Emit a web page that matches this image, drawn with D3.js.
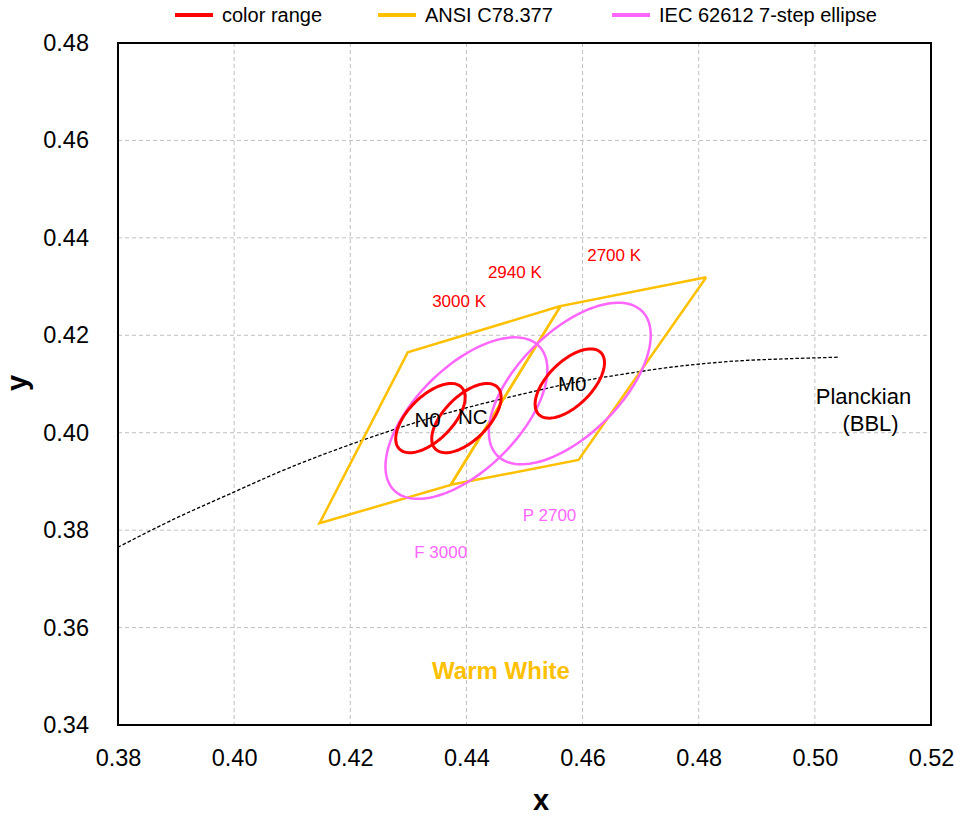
<!DOCTYPE html>
<html><head><meta charset="utf-8">
<script src="https://cdn.jsdelivr.net/npm/d3@7/dist/d3.min.js"></script>
<style>body{margin:0;background:#fff;} text{font-family:"Liberation Sans",Arial,sans-serif;}</style>
</head><body><svg id="c" width="955" height="820"></svg>
<script>
// ---- data ----
const xTicks = [0.38,0.40,0.42,0.44,0.46,0.48,0.50,0.52];
const yTicks = [0.34,0.36,0.38,0.40,0.42,0.44,0.46,0.48];
const legendLabels = ["color range","ANSI C78.377","IEC 62612 7-step ellipse"];
// ANSI C78.377 quadrangles (x,y corners)
const ansi3000 = [[0.4562,0.4260],[0.4299,0.4165],[0.4147,0.3814],[0.4373,0.3893]];
const ansi2700 = [[0.4813,0.4319],[0.4562,0.4260],[0.4373,0.3893],[0.4593,0.3944]];
// ellipses: name, cx, cy, semi-major a, semi-minor b, angle deg
const colorRange = [
  ["N0",0.4338,0.4030,0.00834,0.00408,53.13],
  ["NC",0.4400,0.4030,0.00834,0.00408,53.13],
  ["M0",0.4578,0.4101,0.00834,0.00408,53.13]
];
const iecEllipses = [
  ["F 3000",0.4400,0.4030,0.01946,0.00952,53.13],
  ["P 2700",0.4578,0.4101,0.01946,0.00952,53.13]
];
// Planckian locus points
const planckX = [0.3800,0.3897,0.3992,0.4097,0.4234,0.4369,0.4520,0.4599,0.4685,0.4770,0.4862,0.4957,0.5040];
const planckY = [0.3765,0.3823,0.3874,0.3929,0.3990,0.4041,0.4086,0.4106,0.4123,0.4137,0.4147,0.4152,0.4155];
// text annotations [text, x, y]
const cctLabels = [["3000 K",0.4341,0.4258],["2940 K",0.4437,0.4318],["2700 K",0.4608,0.4353]];
const iecLabels = [["F 3000",0.4310,0.3743],["P 2700",0.4497,0.3819]];
const rangeLabels = [["N0",0.4333,0.4022],["NC",0.4411,0.4029],["M0",0.4582,0.4097]];

// ---- chart ----
const svg = d3.select("#c");
const L=118,R=931,T=43,B=725;
const x = d3.scaleLinear().domain([0.38,0.52]).range([L,R]);
const y = d3.scaleLinear().domain([0.34,0.48]).range([B,T]);
const RED="#ff0000", GOLD="#ffc000", MAG="#ff66ff";

// grid
svg.append("g").selectAll("line").data(xTicks.slice(1,-1)).join("line")
  .attr("x1",d=>x(d)).attr("x2",d=>x(d)).attr("y1",T).attr("y2",B)
  .attr("stroke","#c0c0c0").attr("stroke-width",1).attr("stroke-dasharray","4,3");
svg.append("g").selectAll("line").data(yTicks.slice(1,-1)).join("line")
  .attr("y1",d=>y(d)).attr("y2",d=>y(d)).attr("x1",L).attr("x2",R)
  .attr("stroke","#c0c0c0").attr("stroke-width",1).attr("stroke-dasharray","4,3");

// axes
const xa = svg.append("g").attr("transform",`translate(0,${B})`)
  .call(d3.axisBottom(x).tickValues(xTicks).tickSize(0).tickPadding(24).tickFormat(d3.format(".2f")));
const ya = svg.append("g").attr("transform",`translate(${L},0)`)
  .call(d3.axisLeft(y).tickValues(yTicks).tickSize(0).tickPadding(29).tickFormat(d3.format(".2f")));
[xa,ya].forEach(a=>{a.select(".domain").remove();a.selectAll("text").attr("font-size",23.5).attr("fill","#000")
  .style("font-family","'Liberation Sans',Arial,sans-serif");});
svg.append("rect").attr("x",L).attr("y",T).attr("width",R-L).attr("height",B-T)
  .attr("fill","none").attr("stroke","#000").attr("stroke-width",2);

// axis titles
svg.append("text").attr("x",541).attr("y",810).attr("text-anchor","middle")
  .attr("font-size",29).attr("font-weight","bold").text("x");
svg.append("text").attr("transform","translate(27,383) rotate(-90)").attr("text-anchor","middle")
  .attr("font-size",29).attr("font-weight","bold").text("y");

const clip = svg.append("clipPath").attr("id","pc").append("rect").attr("x",L).attr("y",T).attr("width",R-L).attr("height",B-T);
const plot = svg.append("g").attr("clip-path","url(#pc)");

// Planckian
const line = d3.line().x(d=>x(d[0])).y(d=>y(d[1])).curve(d3.curveCatmullRom);
plot.append("path").datum(planckX.map((v,i)=>[v,planckY[i]])).attr("d",line)
  .attr("fill","none").attr("stroke","#000").attr("stroke-width",1.3).attr("stroke-dasharray","3.5,2");

// ANSI quads
const poly = d3.line().x(d=>x(d[0])).y(d=>y(d[1]));
[ansi3000,ansi2700].forEach(q=>{
  plot.append("path").attr("d",poly(q.concat([q[0]])))
    .attr("fill","none").attr("stroke",GOLD).attr("stroke-width",2.5).attr("stroke-linejoin","miter");
});

function ellipsePts(e){
  const [,cx,cy,a,b,ang]=e, th=ang*Math.PI/180, pts=[];
  for(let i=0;i<=120;i++){const t=i/120*2*Math.PI;
    pts.push([cx+a*Math.cos(th)*Math.cos(t)-b*Math.sin(th)*Math.sin(t),
              cy+a*Math.sin(th)*Math.cos(t)+b*Math.cos(th)*Math.sin(t)]);}
  return pts;
}
iecEllipses.forEach(e=>plot.append("path").attr("d",poly(ellipsePts(e)))
  .attr("fill","none").attr("stroke",MAG).attr("stroke-width",2.5));
colorRange.forEach(e=>plot.append("path").attr("d",poly(ellipsePts(e)))
  .attr("fill","none").attr("stroke",RED).attr("stroke-width",3));

// labels
cctLabels.forEach(l=>svg.append("text").attr("x",x(l[1])).attr("y",y(l[2]))
  .attr("font-size",17).attr("fill",RED).text(l[0]));
iecLabels.forEach(l=>svg.append("text").attr("x",x(l[1])).attr("y",y(l[2]))
  .attr("font-size",17).attr("fill",MAG).text(l[0]));
rangeLabels.forEach(l=>svg.append("text").attr("x",x(l[1])).attr("y",y(l[2])).attr("text-anchor","middle")
  .attr("dominant-baseline","middle").attr("font-size",20.5).attr("fill","#000").text(l[0]));
svg.append("text").attr("x",863.5).attr("y",404).attr("text-anchor","middle").attr("font-size",22).text("Planckian");
svg.append("text").attr("x",870.5).attr("y",431).attr("text-anchor","middle").attr("font-size",22).text("(BBL)");
svg.append("text").attr("x",501).attr("y",679).attr("text-anchor","middle").attr("font-size",24)
  .attr("font-weight","bold").attr("fill",GOLD).text("Warm White");

// legend
const lx=[175,378,612], cols=[RED,GOLD,MAG];
legendLabels.forEach((t,i)=>{
  svg.append("line").attr("x1",lx[i]).attr("x2",lx[i]+38).attr("y1",15).attr("y2",15)
    .attr("stroke",cols[i]).attr("stroke-width",4);
  svg.append("text").attr("x",lx[i]+47).attr("y",21.5).attr("font-size",20).text(t);
});
</script></body></html>
